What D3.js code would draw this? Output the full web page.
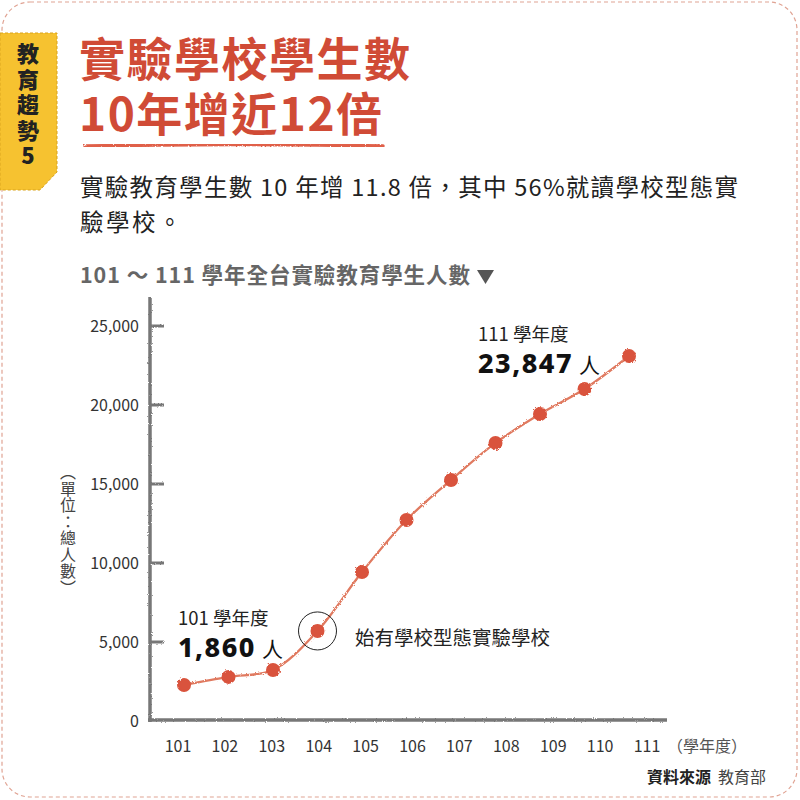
<!DOCTYPE html>
<html><head><meta charset="utf-8">
<script src="https://cdn.jsdelivr.net/npm/d3@7/dist/d3.min.js"></script>
<style>
html,body{margin:0;padding:0;background:#fff;}
svg{display:block;}
text{font-family:"Noto Sans CJK TC","Noto Sans",sans-serif;}
</style></head>
<body>
<svg id="chart" width="800" height="800"></svg>
<script>
// ---- data ----
const years = ["101","102","103","104","105","106","107","108","109","110","111"];
const students = [2280, 2790, 3230, 5700, 9430, 12720, 15250, 17600, 19430, 21010, 23100];
const yTicks = [0, 5000, 10000, 15000, 20000, 25000];
const badgeText = "教育趨勢5";
const titleLines = ["實驗學校學生數", "10年增近12倍"];
const subtitleLines = ["實驗教育學生數 10 年增 11.8 倍，其中 56%就讀學校型態實", "驗學校。"];
const chartTitle = "101 ～ 111 學年全台實驗教育學生人數";
const yUnit = "（單位：總人數）";

const svg = d3.select("#chart");
const defs = svg.append("defs");
const f1 = defs.append("filter").attr("id","rough").attr("x","-5%").attr("y","-5%").attr("width","110%").attr("height","110%");
f1.append("feTurbulence").attr("type","fractalNoise").attr("baseFrequency","0.9").attr("numOctaves",2).attr("result","n");
f1.append("feDisplacementMap").attr("in","SourceGraphic").attr("in2","n").attr("scale",2.5);
const f2 = defs.append("filter").attr("id","rough2").attr("x","-20%").attr("y","-20%").attr("width","140%").attr("height","140%");
f2.append("feTurbulence").attr("type","fractalNoise").attr("baseFrequency","0.6").attr("numOctaves",2).attr("result","n");
f2.append("feDisplacementMap").attr("in","SourceGraphic").attr("in2","n").attr("scale",3);

// outer dashed frame
svg.append("rect").attr("x",2).attr("y",2).attr("width",795).attr("height",795).attr("rx",28)
  .attr("fill","none").attr("stroke","#e0a393").attr("stroke-width",1.2).attr("stroke-dasharray","4,3");

// badge
svg.append("path").attr("d","M0,33 H57 V172 L40,190 H0 Z").attr("fill","#f6c230")
  .attr("stroke","#d9a31c").attr("stroke-width",1).attr("stroke-dasharray","3,2");
svg.append("text").attr("x",28).attr("y",43).attr("font-size",22).attr("font-weight",900)
  .attr("fill","#222").attr("letter-spacing",3.5)
  .attr("style","writing-mode:vertical-rl;text-orientation:upright").text(badgeText);

// title
svg.append("g").selectAll("text").data(titleLines).join("text")
  .attr("x",79).attr("y",(d,i)=>76 + i*55).attr("font-size",46).attr("font-weight",700)
  .attr("font-family","'Liberation Sans','Noto Sans CJK TC',sans-serif")
  .attr("fill","#d04b36").attr("letter-spacing",1.5).text(d=>d);
svg.append("path").attr("d","M85,146 Q230,143 383,146").attr("fill","none")
  .attr("stroke","#e0604a").attr("stroke-width",3.5).attr("stroke-linecap","round").attr("filter","url(#rough2)");

// subtitle
const subW = [658, null];
svg.append("g").selectAll("text").data(subtitleLines).join("text")
  .attr("x",80).attr("y",(d,i)=>196 + i*35).attr("font-size",23.5).attr("fill","#222")
  .each(function(d,i){ if(subW[i]) d3.select(this).attr("textLength",subW[i]).attr("lengthAdjust","spacing"); })
  .attr("letter-spacing",(d,i)=>subW[i]?null:2.5)
  .text(d=>d);

// chart title
svg.append("text").attr("x",80).attr("y",283).attr("font-size",21.5).attr("font-weight",700)
  .attr("fill","#666").attr("textLength",390).attr("lengthAdjust","spacing").text(chartTitle);
svg.append("path").attr("d","M477,270 H494 L485.5,284 Z").attr("fill","#555");

// scales
const y = d3.scaleLinear().domain([0,25000]).range([721,326]);
const xLabel = d3.scalePoint().domain(years).range([178,647]);
const xMark = d3.scalePoint().domain(years).range([184,629]);

// axes (hand-drawn look)
const axG = svg.append("g").attr("filter","url(#rough)");
axG.append("line").attr("x1",150).attr("x2",150).attr("y1",297).attr("y2",722)
  .attr("stroke","#777").attr("stroke-width",3.5);
axG.append("line").attr("x1",148).attr("x2",667).attr("y1",720).attr("y2",720)
  .attr("stroke","#777").attr("stroke-width",3.5);
axG.selectAll("line.tk").data(yTicks.filter(d=>d>0)).join("line").attr("class","tk")
  .attr("x1",150).attr("x2",164).attr("y1",d=>y(d)).attr("y2",d=>y(d))
  .attr("stroke","#777").attr("stroke-width",3);

// y tick labels
svg.append("g").selectAll("text").data(yTicks).join("text")
  .attr("x",139).attr("y",d=>y(d)+6).attr("text-anchor","end").attr("font-size",16)
  .attr("fill","#333").text(d=>d3.format(",")(d));

// y unit label (vertical)
svg.append("text").attr("x",68).attr("y",464).attr("font-size",16).attr("fill","#444")
  .attr("letter-spacing",0.5)
  .attr("style","writing-mode:vertical-rl").text(yUnit);

// x tick labels
svg.append("g").selectAll("text").data(years).join("text")
  .attr("x",d=>xLabel(d)).attr("y",752).attr("text-anchor","middle").attr("font-size",16)
  .attr("fill","#333").text(d=>d);
svg.append("text").attr("x",667).attr("y",752).attr("font-size",16).attr("fill","#555").text("（學年度）");

// line
const line = d3.line().x((d,i)=>xMark(years[i])).y(d=>y(d)).curve(d3.curveCatmullRom.alpha(0.5));
svg.append("path").datum(students).attr("d",line).attr("fill","none")
  .attr("stroke","#e07a60").attr("stroke-width",2.3).attr("filter","url(#rough)");
svg.append("g").attr("filter","url(#rough2)").selectAll("circle").data(students).join("circle")
  .attr("cx",(d,i)=>xMark(years[i])).attr("cy",d=>y(d)).attr("r",7).attr("fill","#d9533c");

// highlight circle at 104
svg.append("circle").attr("cx",xMark("104")).attr("cy",y(students[3])).attr("r",19)
  .attr("fill","none").attr("stroke","#222").attr("stroke-width",1);
svg.append("text").attr("x",355).attr("y",645).attr("font-size",19.5).attr("fill","#222").text("始有學校型態實驗學校");

// annotations
function annot(x, yy, year, num){
  svg.append("text").attr("x",x).attr("y",yy).attr("font-size",18.5).attr("fill","#222").text(year + " 學年度");
  const t = svg.append("text").attr("x",x).attr("y",yy+32).attr("fill","#111");
  t.append("tspan").attr("font-size",27).attr("font-weight",800).attr("letter-spacing",1.5)
    .attr("font-family","'Noto Sans',sans-serif").text(num);
  t.append("tspan").attr("font-size",21).attr("dx",6).text("人");
}
annot(478, 341, "111", "23,847");
annot(178, 625, "101", "1,860");

// source
const src = svg.append("text").attr("x",766).attr("y",783).attr("text-anchor","end").attr("font-size",16).attr("fill","#222");
src.append("tspan").attr("font-weight",700).text("資料來源");
src.append("tspan").attr("dx",7).attr("fill","#444").text("教育部");
</script>
</body></html>
